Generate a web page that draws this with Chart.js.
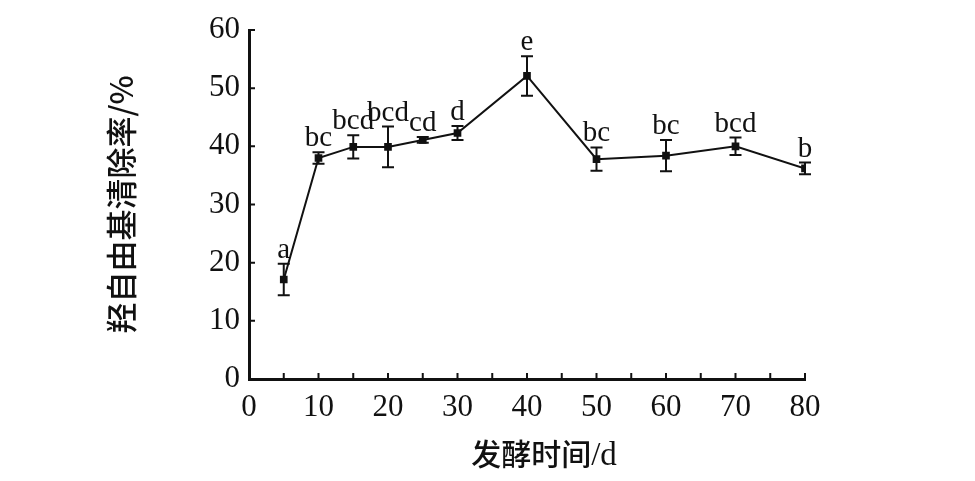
<!DOCTYPE html>
<html>
<head>
<meta charset="utf-8">
<script src="https://cdn.jsdelivr.net/npm/chart.js@4/dist/chart.umd.min.js"></script>
<style>
  body { margin: 0; background: #fff; }
</style>
</head>
<body>
<canvas id="myChart" width="975" height="481"></canvas>
<script>
// 发酵时间 (d) 与 羟自由基清除率 (%)
const days = [5, 10, 15, 20, 25, 30, 40, 50, 60, 70, 80];
const scavenging = [17.1, 38.0, 39.9, 39.9, 41.1, 42.3, 52.1, 37.8, 38.4, 40.0, 36.2];
const errors = [2.7, 1.0, 2.0, 3.5, 0.5, 1.2, 3.4, 2.0, 2.7, 1.5, 1.0];
const letters = ['a', 'bc', 'bcd', 'bcd', 'cd', 'd', 'e', 'bc', 'bc', 'bcd', 'b'];
const xTitle = ['发酵时间', '/d'];

const serif = '"Liberation Serif", "Times New Roman", serif';
const cjk = '"Noto Sans CJK SC", sans-serif';

// 误差线 + 显著性字母
const errorBarPlugin = {
    id: 'errorBars',
    afterDatasetsDraw(chart) {
        const ctx = chart.ctx;
        const xs = chart.scales.x;
        const ys = chart.scales.y;
        ctx.save();
        ctx.strokeStyle = '#111';
        ctx.lineWidth = 2;
        ctx.fillStyle = '#111';
        ctx.font = '29px ' + serif;
        ctx.textAlign = 'center';
        ctx.textBaseline = 'alphabetic';
        days.forEach((d, i) => {
            const x = xs.getPixelForValue(d);
            const top = ys.getPixelForValue(scavenging[i] + errors[i]);
            const bot = ys.getPixelForValue(scavenging[i] - errors[i]);
            ctx.beginPath();
            ctx.moveTo(x, top); ctx.lineTo(x, bot);
            ctx.moveTo(x - 6, top); ctx.lineTo(x + 6, top);
            ctx.moveTo(x - 6, bot); ctx.lineTo(x + 6, bot);
            ctx.stroke();
            ctx.fillText(letters[i], x, top - 6);
        });
        ctx.restore();
    }
};

// 向内的刻度线 + x 轴标题（中文黑体 + 西文衬线）
const innerTicksPlugin = {
    id: 'innerTicks',
    afterDraw(chart) {
        const ctx = chart.ctx;
        const xs = chart.scales.x;
        const ys = chart.scales.y;
        const area = chart.chartArea;
        ctx.save();
        ctx.strokeStyle = '#111';
        ctx.lineWidth = 2;
        ctx.beginPath();
        for (let v = 5; v <= 80; v += 5) {
            const x = xs.getPixelForValue(v);
            ctx.moveTo(x, area.bottom); ctx.lineTo(x, area.bottom - 6);
        }
        for (let v = 10; v <= 60; v += 10) {
            const y = ys.getPixelForValue(v);
            ctx.moveTo(area.left, y); ctx.lineTo(area.left + 6, y);
        }
        ctx.stroke();

        ctx.fillStyle = '#111';
        ctx.textBaseline = 'alphabetic';
        ctx.textAlign = 'left';
        const f1 = '500 30px ' + cjk;
        const f2 = '33px ' + serif;
        ctx.font = f1;
        const w1 = ctx.measureText(xTitle[0]).width;
        ctx.font = f2;
        const w2 = ctx.measureText(xTitle[1]).width;
        const cx = (area.left + area.right) / 2 + 17;
        const x0 = cx - (w1 + w2) / 2;
        ctx.font = f1;
        ctx.fillText(xTitle[0], x0, 465);
        ctx.font = f2;
        ctx.fillText(xTitle[1], x0 + w1, 465);
        ctx.restore();
    }
};

const ctx = document.getElementById('myChart');
new Chart(ctx, {
    type: 'line',
    data: {
        datasets: [{
            label: '羟自由基清除率',
            data: days.map((d, i) => ({ x: d, y: scavenging[i] })),
            borderColor: '#111',
            backgroundColor: '#111',
            borderWidth: 2,
            pointStyle: 'rect',
            pointRadius: 4,
            tension: 0
        }]
    },
    options: {
        responsive: false,
        animation: false,
        layout: { padding: { left: 0, top: 30, right: 170, bottom: 0 } },
        plugins: {
            legend: { display: false },
            tooltip: { enabled: false }
        },
        scales: {
            x: {
                type: 'linear',
                min: 0,
                max: 80,
                afterFit(scale) { scale.height = 102; },
                grid: { display: false, drawTicks: false },
                border: { display: true, color: '#111', width: 3 },
                ticks: {
                    stepSize: 10,
                    padding: 10,
                    color: '#111',
                    font: { family: serif, size: 31 }
                }
            },
            y: {
                min: 0,
                max: 60,
                afterFit(scale) { scale.width = 249; },
                grid: { display: false, drawTicks: false },
                border: { display: true, color: '#111', width: 3 },
                ticks: {
                    stepSize: 10,
                    padding: 9,
                    color: '#111',
                    font: { family: serif, size: 31 }
                },
                title: {
                    display: true,
                    text: '羟自由基清除率/%',
                    color: '#111',
                    font: { family: cjk, size: 31, weight: '500' },
                    padding: { top: 103, bottom: 0 }
                }
            }
        }
    },
    plugins: [errorBarPlugin, innerTicksPlugin]
});
</script>
</body>
</html>
